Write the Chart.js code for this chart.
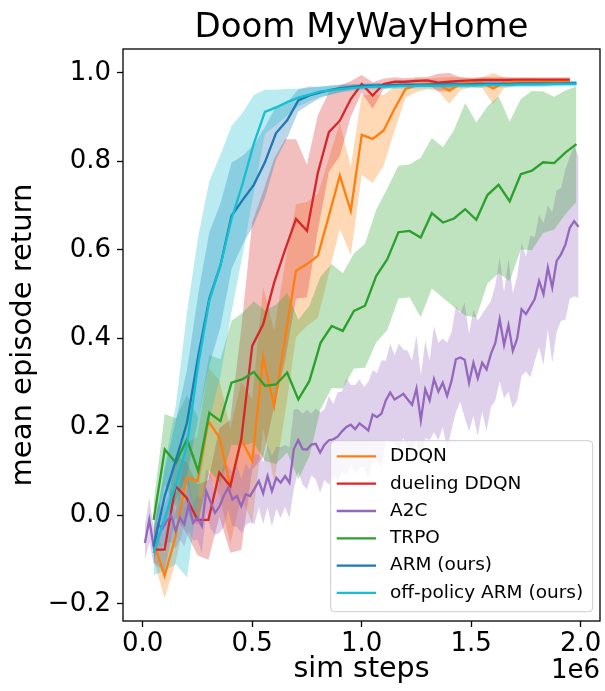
<!DOCTYPE html>
<html>
<head>
<meta charset="utf-8">
<script src="https://cdn.jsdelivr.net/npm/chart.js@4.4.0/dist/chart.umd.min.js"></script>
<style>
  html, body { margin: 0; padding: 0; background: #fff; }
  #wrap { width: 605px; height: 691px; }
</style>
</head>
<body>
<div id="wrap"><canvas id="chart" width="605" height="691"></canvas></div>
<script>
// sim steps, in units of 1e6
const qSteps = Array.from({ length: 39 }, (_, i) => 0.05 * (i + 1));
const pgSteps = Array.from({ length: 39 }, (_, i) => 0.05 + 0.0508 * i);
const a2cSteps = Array.from({ length: 100 }, (_, i) => 0.01 + 0.02 * i);

const xTicks = [0, 0.5, 1.0, 1.5, 2.0];
const yTicks = [-0.2, 0, 0.2, 0.4, 0.6, 0.8, 1.0];

// mean episode return and spread, per series
const ddqnMean = [-0.06, -0.137, -0.047, 0.085, 0.078, 0.213, 0.176, 0.066, 0.172, 0.123,
  0.357, 0.247, 0.40, 0.553, 0.568, 0.587, 0.677, 0.768, 0.688, 0.86,
  0.851, 0.87, 0.919, 0.964, 0.972, 0.975, 0.974, 0.96, 0.975, 0.978,
  0.978, 0.965, 0.978, 0.979, 0.98, 0.979, 0.98, 0.981, 0.981];
const ddqnSpread = [0.04, 0.05, 0.06, 0.08, 0.1, 0.12, 0.13, 0.13, 0.13, 0.14,
  0.16, 0.17, 0.17, 0.15, 0.14, 0.14, 0.13, 0.12, 0.1, 0.09,
  0.1, 0.08, 0.05, 0.02, 0.015, 0.012, 0.015, 0.03, 0.015, 0.01,
  0.012, 0.035, 0.012, 0.008, 0.008, 0.008, 0.006, 0.006, 0.006];

const duelMean = [-0.077, -0.077, 0.066, 0.04, -0.01, -0.01, 0.097, 0.066, 0.172, 0.383,
  0.432, 0.526, 0.60, 0.67, 0.643, 0.775, 0.866, 0.892, 0.941, 0.975,
  0.949, 0.975, 0.98, 0.98, 0.982, 0.983, 0.978, 0.98, 0.982, 0.983,
  0.984, 0.984, 0.984, 0.985, 0.985, 0.985, 0.985, 0.985, 0.985];
const duelSpread = [0.03, 0.05, 0.07, 0.08, 0.08, 0.09, 0.1, 0.15, 0.25, 0.28,
  0.3, 0.28, 0.25, 0.18, 0.15, 0.13, 0.09, 0.08, 0.04, 0.02,
  0.03, 0.012, 0.01, 0.008, 0.008, 0.008, 0.02, 0.02, 0.008, 0.006,
  0.006, 0.006, 0.006, 0.005, 0.005, 0.005, 0.005, 0.005, 0.005];

const a2cMean = [-0.062, -0.01, -0.07, -0.02, -0.03, -0.012, 0.0, -0.035, -0.005, -0.02,
  0.025, -0.017, -0.005, -0.024, 0.055, 0.03, 0.006, 0.02, 0.044, 0.063,
  0.036, 0.044, 0.021, 0.048, 0.044, 0.06, 0.078, 0.05, 0.089, 0.055,
  0.085, 0.074, 0.089, 0.074, 0.15, 0.17, 0.15, 0.149, 0.16, 0.162,
  0.142, 0.16, 0.17, 0.172, 0.178, 0.19, 0.2, 0.205, 0.195, 0.208,
  0.2, 0.192, 0.228, 0.222, 0.23, 0.26, 0.278, 0.262, 0.268, 0.275,
  0.262, 0.25, 0.287, 0.215, 0.285, 0.26, 0.308, 0.28, 0.3, 0.27,
  0.304, 0.353, 0.357, 0.352, 0.3, 0.345, 0.31, 0.345, 0.33, 0.365,
  0.39, 0.443, 0.385, 0.43, 0.372, 0.4, 0.466, 0.455, 0.472, 0.489,
  0.53, 0.5, 0.56, 0.515, 0.575, 0.59, 0.612, 0.65, 0.665, 0.652];
const a2cSpread = [0.04, 0.05, 0.04, 0.05, 0.04, 0.05, 0.06, 0.04, 0.05, 0.05,
  0.06, 0.04, 0.05, 0.06, 0.05, 0.06, 0.05, 0.06, 0.07, 0.05,
  0.06, 0.07, 0.06, 0.07, 0.06, 0.08, 0.06, 0.07, 0.07, 0.08,
  0.07, 0.08, 0.07, 0.08, 0.09, 0.07, 0.08, 0.09, 0.07, 0.08,
  0.09, 0.08, 0.1, 0.08, 0.1, 0.09, 0.11, 0.09, 0.1, 0.1,
  0.09, 0.11, 0.1, 0.1, 0.12, 0.09, 0.11, 0.1, 0.12, 0.1,
  0.11, 0.1, 0.12, 0.1, 0.11, 0.09, 0.12, 0.11, 0.1, 0.12,
  0.11, 0.12, 0.1, 0.13, 0.11, 0.12, 0.13, 0.11, 0.14, 0.12,
  0.13, 0.14, 0.12, 0.15, 0.13, 0.14, 0.15, 0.13, 0.16, 0.14,
  0.15, 0.16, 0.14, 0.17, 0.16, 0.15, 0.17, 0.16, 0.17, 0.16];

const trpoMean = [-0.01, 0.149, 0.119, 0.172, 0.10, 0.232, 0.213, 0.30, 0.308, 0.324,
  0.293, 0.296, 0.323, 0.262, 0.304, 0.39, 0.428, 0.417, 0.462, 0.474,
  0.541, 0.579, 0.64, 0.643, 0.628, 0.683, 0.662, 0.671, 0.692, 0.668,
  0.724, 0.747, 0.71, 0.771, 0.779, 0.798, 0.796, 0.82, 0.839];
const trpoSpread = [0.04, 0.08, 0.1, 0.1, 0.12, 0.13, 0.14, 0.14, 0.15, 0.16,
  0.17, 0.18, 0.18, 0.18, 0.17, 0.15, 0.14, 0.13, 0.13, 0.14,
  0.15, 0.16, 0.15, 0.15, 0.18, 0.17, 0.17, 0.2, 0.24, 0.22,
  0.2, 0.2, 0.18, 0.17, 0.18, 0.16, 0.15, 0.14, 0.13];

const armMean = [-0.07, 0.045, 0.125, 0.21, 0.36, 0.49, 0.565, 0.677, 0.713, 0.747,
  0.798, 0.864, 0.893, 0.938, 0.949, 0.956, 0.962, 0.966, 0.969, 0.971,
  0.972, 0.972, 0.973, 0.973, 0.973, 0.974, 0.974, 0.974, 0.974, 0.975,
  0.975, 0.975, 0.975, 0.976, 0.976, 0.976, 0.976, 0.977, 0.977];
const armSpread = [0.03, 0.06, 0.09, 0.12, 0.14, 0.15, 0.14, 0.12, 0.1, 0.09,
  0.08, 0.06, 0.04, 0.025, 0.02, 0.012, 0.01, 0.008, 0.006, 0.005,
  0.005, 0.005, 0.005, 0.005, 0.005, 0.005, 0.005, 0.005, 0.005, 0.005,
  0.005, 0.005, 0.005, 0.005, 0.005, 0.005, 0.005, 0.005, 0.005];

const offArmMean = [-0.085, -0.005, 0.07, 0.16, 0.34, 0.485, 0.565, 0.67, 0.75, 0.84,
  0.912, 0.922, 0.934, 0.944, 0.951, 0.958, 0.961, 0.964, 0.966, 0.968,
  0.969, 0.969, 0.97, 0.97, 0.971, 0.971, 0.971, 0.972, 0.972, 0.972,
  0.973, 0.973, 0.973, 0.974, 0.974, 0.974, 0.975, 0.975, 0.975];
const offArmSpread = [0.05, 0.12, 0.18, 0.3, 0.29, 0.27, 0.25, 0.21, 0.16, 0.11,
  0.05, 0.04, 0.03, 0.02, 0.015, 0.012, 0.01, 0.008, 0.007, 0.006,
  0.006, 0.006, 0.006, 0.006, 0.006, 0.006, 0.006, 0.006, 0.006, 0.006,
  0.006, 0.006, 0.006, 0.006, 0.006, 0.006, 0.006, 0.006, 0.006];

const seriesNames = ["DDQN", "dueling DDQN", "A2C", "TRPO", "ARM (ours)", "off-policy ARM (ours)"];
const seriesColors = ["#ff7f0e", "#d62728", "#9467bd", "#2ca02c", "#1f77b4", "#17becf"];
const seriesSteps = [qSteps, qSteps, a2cSteps, pgSteps, pgSteps, pgSteps];
const seriesMeans = [ddqnMean, duelMean, a2cMean, trpoMean, armMean, offArmMean];
const seriesSpreads = [ddqnSpread, duelSpread, a2cSpread, trpoSpread, armSpread, offArmSpread];

const FONT = '"DejaVu Sans", sans-serif';

function alpha(hex, a) {
  const n = parseInt(hex.slice(1), 16);
  return `rgba(${(n >> 16) & 255}, ${(n >> 8) & 255}, ${n & 255}, ${a})`;
}

function points(xs, ys) {
  return ys.map((y, i) => ({ x: xs[i], y: y }));
}

// bands first (upper + lower filled to it), then the mean lines
const datasets = [];
seriesNames.forEach((name, i) => {
  const xs = seriesSteps[i], m = seriesMeans[i], s = seriesSpreads[i];
  datasets.push({
    label: name + " upper",
    data: points(xs, m.map((v, j) => v + s[j])),
    borderWidth: 0, pointRadius: 0, fill: false, order: 200 - i
  });
  datasets.push({
    label: name + " lower",
    data: points(xs, m.map((v, j) => v - s[j])),
    borderWidth: 0, pointRadius: 0, fill: "-1",
    backgroundColor: alpha(seriesColors[i], 0.3), order: 200 - i
  });
});
seriesNames.forEach((name, i) => {
  datasets.push({
    label: name,
    data: points(seriesSteps[i], seriesMeans[i]),
    borderColor: seriesColors[i],
    borderWidth: 2.3, pointRadius: 0, fill: false, order: 20 - i
  });
});

// frame, legend and axis offset text
const decorations = {
  id: "decorations",
  afterDatasetsDraw(chart) {
    const { ctx, chartArea: a } = chart;
    ctx.save();
    ctx.strokeStyle = "#000";
    ctx.lineWidth = 1.3;
    ctx.strokeRect(a.left, a.top, a.right - a.left, a.bottom - a.top);

    const w = 262, h = 171;
    const bx = a.right - 7.3 - w, by = a.bottom - 9.3 - h;
    ctx.beginPath();
    ctx.roundRect(bx, by, w, h, 4);
    ctx.fillStyle = "rgba(255,255,255,0.8)";
    ctx.fill();
    ctx.strokeStyle = "#cccccc";
    ctx.lineWidth = 1;
    ctx.stroke();

    ctx.font = "18.5px " + FONT;
    ctx.textBaseline = "middle";
    ctx.textAlign = "left";
    seriesNames.forEach((name, i) => {
      const y = by + 15.7 + i * 27.3;
      ctx.strokeStyle = seriesColors[i];
      ctx.lineWidth = 2.3;
      ctx.beginPath();
      ctx.moveTo(bx + 6, y);
      ctx.lineTo(bx + 45.3, y);
      ctx.stroke();
      ctx.fillStyle = "#000";
      ctx.fillText(name, bx + 59.3, y);
    });

    ctx.font = "26px " + FONT;
    ctx.textAlign = "right";
    ctx.textBaseline = "alphabetic";
    ctx.fillText("1e6", a.right, 678);
    ctx.restore();
  }
};

const fmt = v => (v < 0 ? "\u2212" : "") + Math.abs(v).toFixed(1);

new Chart(document.getElementById("chart"), {
  type: "line",
  data: { datasets: datasets },
  plugins: [decorations],
  options: {
    responsive: false,
    animation: false,
    devicePixelRatio: 1,
    layout: { padding: { left: 0, right: 5, top: 0, bottom: 0 } },
    plugins: {
      legend: { display: false },
      tooltip: { enabled: false },
      filler: { drawTime: "beforeDatasetsDraw" },
      title: {
        display: true,
        fullSize: false,
        text: "Doom MyWayHome",
        color: "#000",
        font: { family: FONT, size: 34, weight: "normal" },
        padding: { top: 8.2, bottom: 0 }
      }
    },
    scales: {
      x: {
        type: "linear",
        min: -0.09,
        max: 2.088,
        afterBuildTicks: s => { s.ticks = xTicks.map(v => ({ value: v })); },
        afterFit: s => { s.height = 70; s.paddingLeft = 0; s.paddingRight = 0; },
        border: { display: false },
        grid: { drawOnChartArea: false, drawTicks: true, tickLength: 6, tickColor: "#000", tickWidth: 1.3 },
        ticks: {
          color: "#000", maxRotation: 0, autoSkip: false, padding: 2,
          font: { family: FONT, size: 26 },
          callback: v => fmt(v)
        },
        title: {
          display: true, text: "sim steps", color: "#000",
          font: { family: FONT, size: 28.5 },
          padding: { top: 0, bottom: 3.9 }
        }
      },
      y: {
        type: "linear",
        min: -0.2385,
        max: 1.054,
        afterBuildTicks: s => { s.ticks = yTicks.map(v => ({ value: v })); },
        afterFit: s => { s.width = 123; s.paddingTop = 0; s.paddingBottom = 0; },
        border: { display: false },
        grid: { drawOnChartArea: false, drawTicks: true, tickLength: 6, tickColor: "#000", tickWidth: 1.3 },
        ticks: {
          color: "#000", padding: 6,
          font: { family: FONT, size: 26 },
          callback: v => fmt(v)
        },
        title: {
          display: true, text: "mean episode return", color: "#000",
          font: { family: FONT, size: 29 },
          padding: { top: 5.6, bottom: 0 }
        }
      }
    }
  }
});
</script>
</body>
</html>
